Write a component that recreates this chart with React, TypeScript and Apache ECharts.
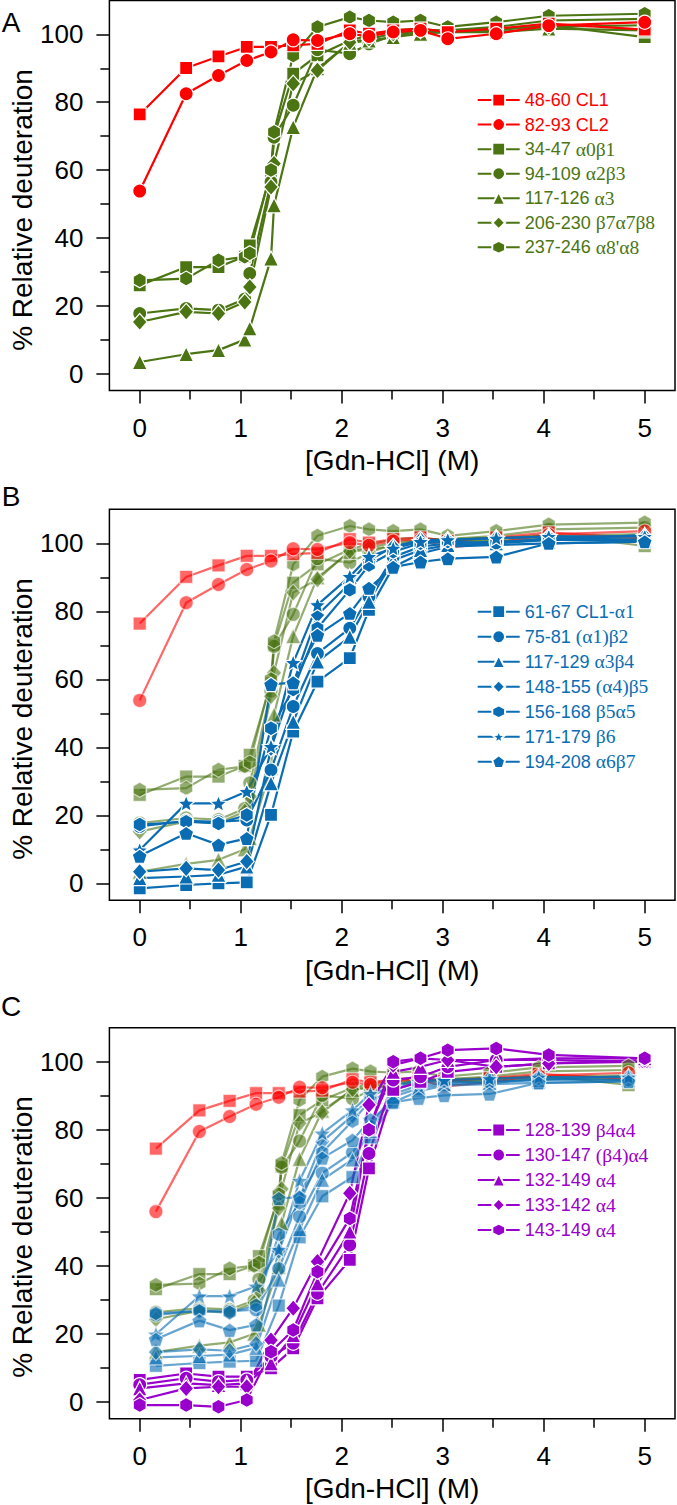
import React, { useEffect, useRef } from "react";
import * as echarts from "echarts";

// ---------- concentrations (M) ----------
const X_MAIN = [0, 0.46, 0.78, 1.06, 1.3, 1.52, 1.76, 2.08, 2.27, 2.51, 2.78, 3.05, 3.53, 4.05, 5.0];
const X_GREEN = [0, 0.46, 0.78, 1.04, 1.09, 1.3, 1.33, 1.52, 1.76, 2.08, 2.27, 2.51, 2.78, 3.05, 3.53, 4.05, 5.0];

const X_TICKS = [0, 1, 2, 3, 4, 5];
const X_MINOR = [0.5, 1.5, 2.5, 3.5, 4.5];
const Y_TICKS = [0, 20, 40, 60, 80, 100];
const Y_MINOR = [10, 30, 50, 70, 90];

// ---------- panel A: red ----------
const Y_48_60 = [76.4, 90.1, 93.5, 96.3, 96.3, 96.8, 97.2, 101.2, 100.2, 101.2, 101.7, 100.7, 101.7, 103.2, 101.4];
const Y_82_93 = [53.8, 82.5, 87.9, 92.3, 94.8, 98.4, 98.2, 100.2, 99.4, 100.7, 101.2, 98.7, 100.2, 102.6, 103.6];

// ---------- panel A: green ----------
const Y_34_47 = [26.0, 31.4, 31.4, 34.5, 37.8, 58.9, 70.0, 88.4, 93.8, 98.2, 99.7, 101.2, 101.7, 100.7, 101.2, 102.7, 99.2];
const Y_94_109 = [17.7, 19.2, 18.7, 22.0, 29.5, 56.5, 69.7, 79.1, 95.5, 94.3, 97.2, 99.7, 100.7, 101.2, 102.2, 104.1, 104.6];
const Y_117_126 = [3.4, 5.7, 6.9, 10.0, 13.3, 33.9, 49.6, 72.7, 90.0, 97.5, 98.2, 99.2, 100.2, 100.7, 100.7, 101.7, 101.2];
const Y_206_230 = [15.2, 18.2, 17.7, 21.1, 25.5, 55.0, 61.9, 85.5, 89.4, 97.7, 98.7, 100.2, 101.2, 101.2, 101.7, 102.2, 102.7];
const Y_237_246 = [27.5, 28.0, 33.4, 34.4, 35.5, 60.0, 71.2, 93.8, 102.2, 105.1, 104.1, 103.6, 104.1, 102.2, 103.6, 105.5, 106.1];

// ---------- panel B: blue ----------
const Y_61_67 = [-1.5, -0.5, 0.0, 0.3, 20.1, 44.6, 59.3, 66.2, 80.4, 93.0, 97.0, 99.0, 99.5, 100.0, 100.5];
const Y_75_81 = [16.7, 18.4, 18.1, 18.6, 33.3, 52.0, 67.6, 75.0, 84.3, 96.0, 99.0, 100.0, 100.5, 101.0, 101.0];
const Y_117_129 = [1.5, 2.0, 2.5, 4.9, 29.4, 47.5, 65.2, 72.5, 82.8, 95.0, 98.0, 99.5, 100.0, 101.0, 102.5];
const Y_148_155 = [3.4, 4.4, 3.9, 6.4, 39.7, 58.8, 78.9, 88.2, 95.0, 99.0, 101.0, 101.0, 101.5, 102.0, 102.0];
const Y_156_168 = [17.3, 18.1, 17.6, 20.1, 45.6, 57.0, 75.0, 86.3, 93.6, 97.5, 100.0, 100.5, 100.0, 101.5, 101.0];
const Y_171_179 = [9.8, 23.5, 23.5, 27.0, 40.2, 64.9, 81.9, 90.2, 96.1, 98.5, 100.5, 101.0, 101.5, 102.0, 102.0];
const Y_194_208 = [8.0, 14.7, 11.3, 13.2, 58.5, 59.0, 73.0, 79.4, 86.8, 93.0, 94.5, 95.5, 96.0, 100.0, 100.5];

// ---------- panel C: purple ----------
const Y_128_139 = [6.4, 8.3, 7.4, 7.4, 9.8, 15.7, 30.4, 41.7, 68.6, 91.7, 94.1, 97.0, 98.5, 99.5, 100.0];
const Y_130_147 = [5.0, 6.9, 5.9, 6.4, 13.2, 17.2, 31.9, 46.1, 73.0, 94.6, 95.6, 98.5, 100.5, 100.5, 100.0];
const Y_132_149 = [3.9, 5.4, 4.9, 5.4, 11.3, 19.6, 34.8, 50.0, 80.4, 97.0, 98.5, 100.5, 100.5, 101.0, 101.0];
const Y_133_142 = [0.5, 3.9, 4.4, 4.4, 18.1, 27.5, 41.2, 61.3, 87.3, 99.0, 101.0, 100.5, 98.5, 99.5, 100.5];
const Y_143_149 = [-1.0, -1.0, -1.5, 0.5, 14.7, 21.1, 38.2, 53.9, 80.0, 100.0, 101.0, 103.4, 103.9, 102.0, 101.0];

// ---------- styles ----------
const RED = "#FF0000";
const GREEN = "#4B7512";
const BLUE = "#0A6DB3";
const PURPLE = "#9900CC";
const FONT = "'Liberation Sans', Arial, Helvetica, sans-serif";
const SERIF = "'Liberation Serif', 'Times New Roman', serif";

const SYMBOLS: Record<string, string> = {
  square: "rect",
  circle: "circle",
  triangle: "triangle",
  diamond: "diamond",
  hexagon: "path://M0,-10L8.66,-5L8.66,5L0,10L-8.66,5L-8.66,-5Z",
  star: "path://M0,-10L2.6,-3.6L9.511,-3.09L4.2,1.4L5.878,8.09L0,4.4L-5.878,8.09L-4.2,1.4L-9.511,-3.09L-2.6,-3.6Z",
  pentagon: "path://M0,-10L9.511,-3.09L5.878,8.09L-5.878,8.09L-9.511,-3.09Z",
};
const SIZES: Record<string, any> = {
  square: 13,
  circle: 14,
  triangle: 15,
  diamond: [15, 17],
  hexagon: 15,
  star: 17,
  pentagon: 15,
};

type Def = { name: string; symbol: string; y: number[]; x: number[]; key: string; color: string };

const RED_DEFS: Def[] = [
  { name: "48-60 CL1", symbol: "square", y: Y_48_60, x: X_MAIN, key: "r", color: RED },
  { name: "82-93 CL2", symbol: "circle", y: Y_82_93, x: X_MAIN, key: "r", color: RED },
];
const GREEN_DEFS: Def[] = [
  { name: "34-47 α0β1", symbol: "square", y: Y_34_47, x: X_GREEN, key: "g", color: GREEN },
  { name: "94-109 α2β3", symbol: "circle", y: Y_94_109, x: X_GREEN, key: "g", color: GREEN },
  { name: "117-126 α3", symbol: "triangle", y: Y_117_126, x: X_GREEN, key: "g", color: GREEN },
  { name: "206-230 β7α7β8", symbol: "diamond", y: Y_206_230, x: X_GREEN, key: "g", color: GREEN },
  { name: "237-246 α8'α8", symbol: "hexagon", y: Y_237_246, x: X_GREEN, key: "g", color: GREEN },
];
const BLUE_DEFS: Def[] = [
  { name: "61-67 CL1-α1", symbol: "square", y: Y_61_67, x: X_MAIN, key: "b", color: BLUE },
  { name: "75-81 (α1)β2", symbol: "circle", y: Y_75_81, x: X_MAIN, key: "b", color: BLUE },
  { name: "117-129 α3β4", symbol: "triangle", y: Y_117_129, x: X_MAIN, key: "b", color: BLUE },
  { name: "148-155 (α4)β5", symbol: "diamond", y: Y_148_155, x: X_MAIN, key: "b", color: BLUE },
  { name: "156-168 β5α5", symbol: "hexagon", y: Y_156_168, x: X_MAIN, key: "b", color: BLUE },
  { name: "171-179 β6", symbol: "star", y: Y_171_179, x: X_MAIN, key: "b", color: BLUE },
  { name: "194-208 α6β7", symbol: "pentagon", y: Y_194_208, x: X_MAIN, key: "b", color: BLUE },
];
const PURPLE_DEFS: Def[] = [
  { name: "128-139 β4α4", symbol: "square", y: Y_128_139, x: X_MAIN, key: "p", color: PURPLE },
  { name: "130-147 (β4)α4", symbol: "circle", y: Y_130_147, x: X_MAIN, key: "p", color: PURPLE },
  { name: "132-149 α4", symbol: "triangle", y: Y_132_149, x: X_MAIN, key: "p", color: PURPLE },
  { name: "133-142 α4", symbol: "diamond", y: Y_133_142, x: X_MAIN, key: "p", color: PURPLE },
  { name: "143-149 α4", symbol: "hexagon", y: Y_143_149, x: X_MAIN, key: "p", color: PURPLE },
];

const ALL_DEFS = [...RED_DEFS, ...GREEN_DEFS, ...BLUE_DEFS, ...PURPLE_DEFS];
const KEY_OF: Record<string, string> = {};
ALL_DEFS.forEach((d) => (KEY_OF[d.name] = d.key));

// ---------- layout ----------
const FRAME_LEFT = 109.4;
const FRAME_WIDTH = 565.6;
const PANEL_TOPS = [0.5, 509.3, 1027.7];
const PANEL_HEIGHTS = [390, 391, 391];
const OVERLAY_C = { left: 155.9, width: 472.6, top: 1082.8, height: 278.8 };

function makeSeries(d: Def, axis: number, opacity: number, tag: string) {
  return {
    type: "line",
    name: tag + d.name,
    xAxisIndex: axis,
    yAxisIndex: axis,
    data: d.x.map((xv, i) => [xv, d.y[i]]),
    symbol: SYMBOLS[d.symbol],
    symbolSize: SIZES[d.symbol],
    symbolKeepAspect: true,
    showAllSymbol: true,
    clip: false,
    silent: true,
    lineStyle: { color: d.color, width: 2.2, opacity },
    itemStyle: { color: d.color, borderColor: "#ffffff", borderWidth: 1.2, opacity },
    emphasis: { disabled: true },
  };
}

function makeRich(lh: number) {
  const r: any = {};
  const cols: Record<string, string> = { r: RED, g: GREEN, b: BLUE, p: PURPLE };
  Object.keys(cols).forEach((k) => {
    r[k + "s"] = { color: cols[k], fontFamily: FONT, fontSize: 18, lineHeight: lh };
    r[k + "g"] = { color: cols[k], fontFamily: SERIF, fontSize: 19.5, lineHeight: lh };
  });
  return r;
}

function legendFormatter(name: string) {
  const k = KEY_OF[name] || "r";
  const i = name.search(/[\u0370-\u03FF(]/);
  if (i < 0) return `{${k}s|${name}}`;
  return `{${k}s|${name.slice(0, i)}}{${k}g|${name.slice(i)}}`;
}

function makeLegend(names: string[], top: number, lh: number) {
  return {
    orient: "vertical",
    left: 476.7,
    top,
    padding: 0,
    itemWidth: 42,
    itemHeight: 16,
    itemGap: 0,
    selectedMode: false,
    data: names,
    formatter: legendFormatter,
    textStyle: { fontSize: 18, lineHeight: lh, fontFamily: FONT, rich: makeRich(lh) },
  };
}

function buildOption() {
  const grid: any[] = [];
  const xAxis: any[] = [];
  const yAxis: any[] = [];
  const tickStyle = { color: "#000", width: 1.5 };
  const noLine = { show: false, onZero: false };
  PANEL_TOPS.forEach((top, p) => {
    grid.push({
      left: FRAME_LEFT,
      top,
      width: FRAME_WIDTH,
      height: PANEL_HEIGHTS[p],
      show: true,
      borderColor: "#000",
      borderWidth: 1.5,
      backgroundColor: "transparent",
      containLabel: false,
      outerBoundsMode: "none",
    });
    xAxis.push({
      type: "value",
      gridIndex: p,
      min: -0.3,
      max: 5.3,
      position: "bottom",
      axisLine: noLine,
      splitLine: { show: false },
      axisTick: { show: true, inside: false, length: 13, customValues: X_TICKS, lineStyle: tickStyle },
      axisLabel: { show: true, customValues: X_TICKS, fontSize: 26, color: "#000", margin: 24, fontFamily: FONT },
      name: "[Gdn-HCl] (M)",
      nameLocation: "middle",
      nameGap: 56,
      nameTextStyle: { fontSize: 28, color: "#000", fontFamily: FONT },
    });
    xAxis.push({
      type: "value",
      gridIndex: p,
      min: -0.3,
      max: 5.3,
      position: "bottom",
      offset: 0,
      axisLine: noLine,
      splitLine: { show: false },
      axisTick: { show: true, inside: false, length: 9, customValues: X_MINOR, lineStyle: tickStyle },
      axisLabel: { show: false },
    });
    yAxis.push({
      type: "value",
      gridIndex: p,
      min: -5,
      max: 110,
      position: "left",
      axisLine: noLine,
      splitLine: { show: false },
      axisTick: { show: true, inside: false, length: 13, customValues: Y_TICKS, lineStyle: tickStyle },
      axisLabel: { show: true, customValues: Y_TICKS, fontSize: 26, color: "#000", margin: 26, fontFamily: FONT },
    });
    yAxis.push({
      type: "value",
      gridIndex: p,
      min: -5,
      max: 110,
      position: "left",
      offset: 0,
      axisLine: noLine,
      splitLine: { show: false },
      axisTick: { show: true, inside: false, length: 9, customValues: Y_MINOR, lineStyle: tickStyle },
      axisLabel: { show: false },
    });
  });
  // overlay grid in panel C (reduced copy of the A and B curves)
  grid.push({ ...OVERLAY_C, show: false, containLabel: false, outerBoundsMode: "none" });
  xAxis.push({ type: "value", gridIndex: 3, min: 0, max: 5, show: false, axisLine: noLine });
  yAxis.push({ type: "value", gridIndex: 3, min: 0, max: 100, show: false, axisLine: noLine });

  const series: any[] = [];
  // Panel A
  GREEN_DEFS.forEach((d) => series.push(makeSeries(d, 0, 1, "")));
  RED_DEFS.forEach((d) => series.push(makeSeries(d, 0, 1, "")));
  // Panel B
  GREEN_DEFS.forEach((d) => series.push(makeSeries(d, 2, 0.6, "B·")));
  RED_DEFS.forEach((d) => series.push(makeSeries(d, 2, 0.6, "B·")));
  BLUE_DEFS.forEach((d) => series.push(makeSeries(d, 2, 1, "")));
  // Panel C
  GREEN_DEFS.forEach((d) => series.push(makeSeries(d, 6, 0.6, "C·")));
  RED_DEFS.forEach((d) => series.push(makeSeries(d, 6, 0.6, "C·")));
  BLUE_DEFS.forEach((d) => series.push(makeSeries(d, 6, 0.62, "C·")));
  PURPLE_DEFS.forEach((d) => series.push(makeSeries(d, 4, 1, "")));

  const txt = (t: string, x: number, y: number, rot: number) => ({
    type: "text",
    x,
    y,
    rotation: rot,
    style: {
      text: t,
      fontSize: 28,
      fontFamily: FONT,
      fill: "#000",
      align: "center",
      verticalAlign: "middle",
      textAlign: "center",
      textVerticalAlign: "middle",
    },
  });

  return {
    animation: false,
    backgroundColor: "#ffffff",
    grid,
    xAxis,
    yAxis,
    legend: [
      makeLegend([...RED_DEFS, ...GREEN_DEFS].map((d) => d.name), 87.75, 24.55),
      makeLegend(BLUE_DEFS.map((d) => d.name), 599.2, 25),
      makeLegend(PURPLE_DEFS.map((d) => d.name), 1117.5, 25),
    ],
    graphic: [
      txt("% Relative deuteration", 22, 210, Math.PI / 2),
      txt("% Relative deuteration", 22, 719, Math.PI / 2),
      txt("% Relative deuteration", 22, 1237, Math.PI / 2),
      txt("A", 11, 22, 0),
      txt("B", 11, 496, 0),
      txt("C", 11, 1006, 0),
    ],
    series,
  };
}

export default function App() {
  const ref = useRef<HTMLDivElement>(null);
  useEffect(() => {
    if (!ref.current) return;
    const chart = echarts.init(ref.current, null, { renderer: "svg" });
    chart.setOption(buildOption() as any);
    return () => chart.dispose();
  }, []);
  return (
    <div
      ref={ref}
      style={{ position: "absolute", left: 0, top: 0, width: 677, height: 1505, background: "#fff" }}
    />
  );
}
